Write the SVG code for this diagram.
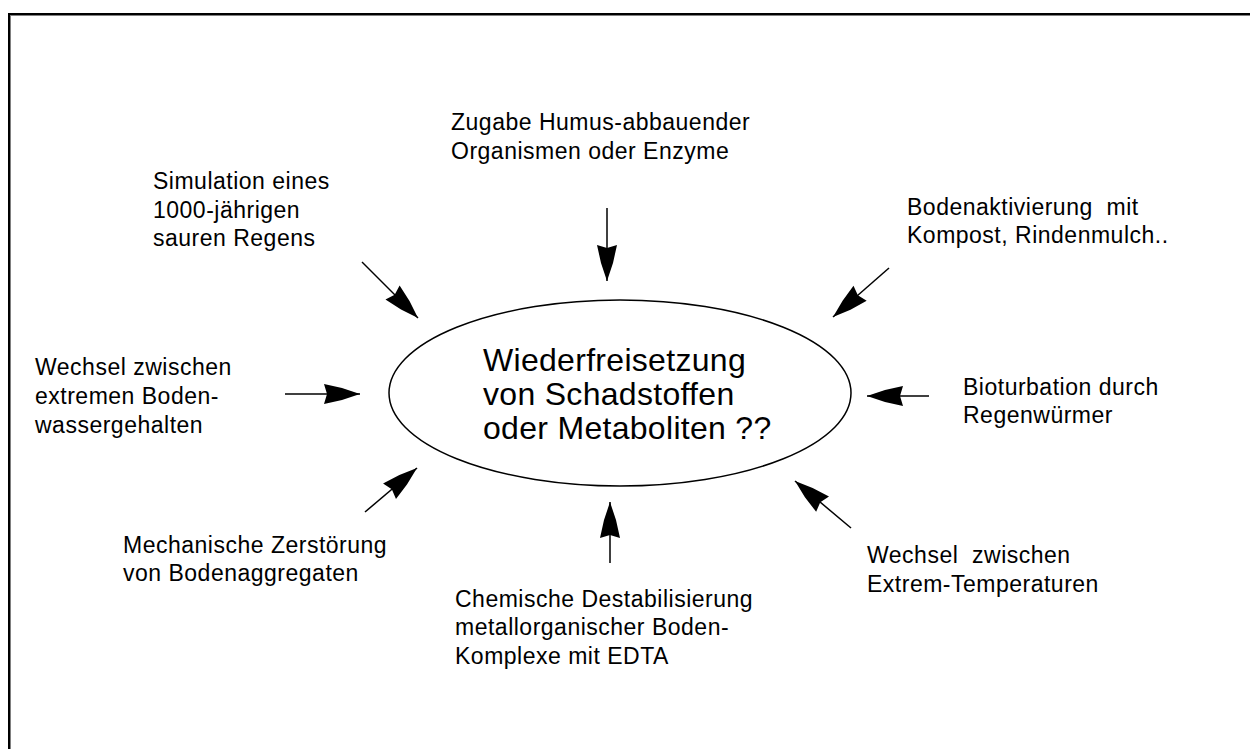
<svg xmlns="http://www.w3.org/2000/svg" width="1250" height="749" viewBox="0 0 1250 749">
<style>
text { font-family: "Liberation Sans", Arial, sans-serif; fill: #000; }
.lbl { font-size: 23px; letter-spacing: 0.5px; white-space: pre; }
.ctr { font-size: 32px; letter-spacing: 0.3px; }
.conn { stroke: #000; stroke-width: 1.5; fill: none; }
</style>
<defs>
<marker id="ah" markerUnits="userSpaceOnUse" markerWidth="40" markerHeight="24" viewBox="-38 -12 40 24" refX="0" refY="0" orient="auto">
<polygon points="0,0 -18,-6 -36,-10 -33,0 -36,10 -18,6" fill="#000"/>
</marker>
</defs>
<rect x="0" y="0" width="1250" height="749" fill="#fff"/>
<g id="frame">
<rect x="8" y="13" width="1242" height="2" fill="#000"/>
<rect x="8" y="13" width="2" height="736" fill="#000"/>
<rect x="10" y="15" width="1240" height="1" fill="#808080"/>
<rect x="10" y="15" width="1" height="734" fill="#808080"/>
</g>
<g id="center">
<ellipse cx="620" cy="393" rx="231" ry="93" fill="none" stroke="#000" stroke-width="1.5"/>
<text class="ctr" x="483" y="371">Wiederfreisetzung</text>
<text class="ctr" x="483" y="405">von Schadstoffen</text>
<text class="ctr" x="483" y="439">oder Metaboliten ??</text>
</g>
<g id="n-simulation">
<text class="lbl" x="153" y="189">Simulation eines</text>
<text class="lbl" x="153" y="218">1000-jährigen</text>
<text class="lbl" x="153" y="246">sauren Regens</text>
</g>
<g id="n-zugabe">
<text class="lbl" x="451" y="130">Zugabe Humus-abbauender</text>
<text class="lbl" x="451" y="159">Organismen oder Enzyme</text>
</g>
<g id="n-boden">
<text class="lbl" x="907" y="215">Bodenaktivierung  mit</text>
<text class="lbl" x="907" y="243">Kompost, Rindenmulch..</text>
</g>
<g id="n-wasser">
<text class="lbl" x="35" y="375">Wechsel zwischen</text>
<text class="lbl" x="35" y="404">extremen Boden-</text>
<text class="lbl" x="35" y="433">wassergehalten</text>
</g>
<g id="n-bio">
<text class="lbl" x="963" y="395">Bioturbation durch</text>
<text class="lbl" x="963" y="423">Regenwürmer</text>
</g>
<g id="n-mech">
<text class="lbl" x="123" y="553">Mechanische Zerstörung</text>
<text class="lbl" x="123" y="581">von Bodenaggregaten</text>
</g>
<g id="n-chem">
<text class="lbl" x="455" y="607">Chemische Destabilisierung</text>
<text class="lbl" x="455" y="635">metallorganischer Boden-</text>
<text class="lbl" x="455" y="664">Komplexe mit EDTA</text>
</g>
<g id="n-temp">
<text class="lbl" x="867" y="563">Wechsel  zwischen</text>
<text class="lbl" x="867" y="592">Extrem-Temperaturen</text>
</g>
<g id="connectors">
<line class="conn" x1="362" y1="262" x2="418" y2="318" marker-end="url(#ah)"/>
<line class="conn" x1="607" y1="208" x2="607" y2="281" marker-end="url(#ah)"/>
<line class="conn" x1="889" y1="268" x2="833" y2="317" marker-end="url(#ah)"/>
<line class="conn" x1="285" y1="394" x2="360" y2="394" marker-end="url(#ah)"/>
<line class="conn" x1="929" y1="396" x2="867" y2="396" marker-end="url(#ah)"/>
<line class="conn" x1="365" y1="512" x2="417" y2="468" marker-end="url(#ah)"/>
<line class="conn" x1="610" y1="563" x2="610" y2="502" marker-end="url(#ah)"/>
<line class="conn" x1="851" y1="528" x2="795" y2="481" marker-end="url(#ah)"/>
</g>
</svg>
